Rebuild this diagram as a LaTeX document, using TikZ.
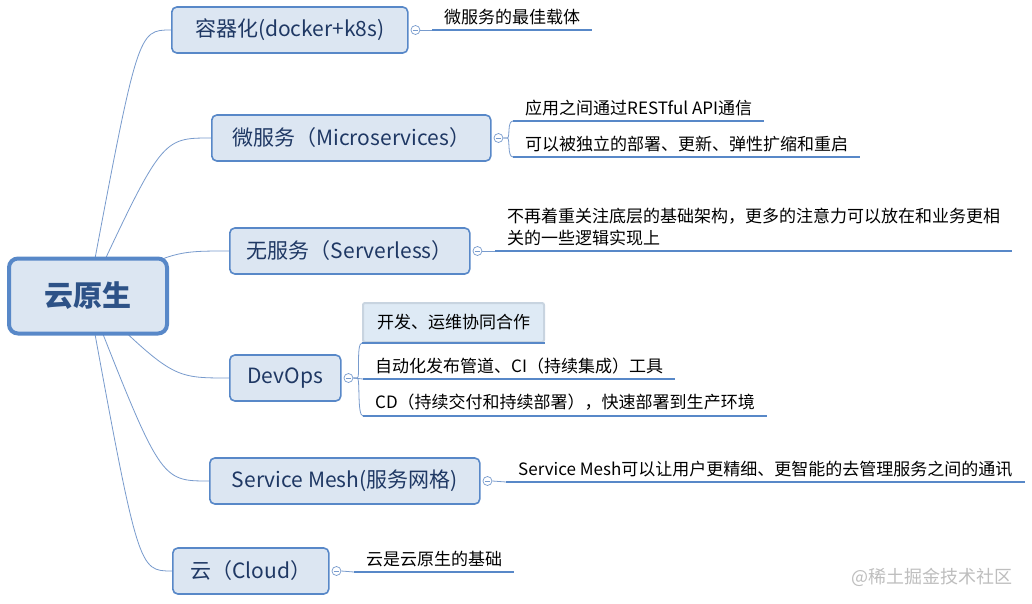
\documentclass[tikz,border=0pt]{standalone}
\usepackage{fontspec}
\setmainfont{Noto Sans CJK SC}
\usepackage{xcolor}
\usetikzlibrary{positioning,calc,backgrounds}

\definecolor{boxfill}{RGB}{220,230,242}
\definecolor{boxline}{RGB}{88,136,200}
\definecolor{boxtext}{RGB}{31,56,100}
\definecolor{roottext}{RGB}{45,82,135}
\definecolor{limbline}{RGB}{120,155,205}
\definecolor{ulinecol}{RGB}{88,136,200}
\definecolor{selfill}{RGB}{222,234,245}
\definecolor{selline}{RGB}{200,212,224}
\definecolor{markgray}{RGB}{190,190,190}

\begin{document}
\begin{tikzpicture}[x=1pt,y=-1pt]
\tikzstyle{root} = [rectangle, rounded corners=9pt, draw=boxline, line width=4pt, fill=boxfill, text=roottext, font=\fontsize{29}{34}\selectfont\bfseries, minimum width=158pt, minimum height=75pt]
\tikzstyle{branch} = [rectangle, rounded corners=5pt, draw=boxline, line width=1.6pt, fill=boxfill, text=boxtext, font=\fontsize{21}{25}\selectfont, minimum height=46pt, anchor=west]
\tikzstyle{fold} = [circle, draw=limbline, fill=white, line width=0.7pt, inner sep=0pt, minimum size=9pt, path picture={\draw[limbline, line width=0.7pt] ([xshift=-2.5pt]path picture bounding box.center) -- ([xshift=2.5pt]path picture bounding box.center);}]
\tikzstyle{leaf} = [anchor=south west, inner xsep=12pt, inner ysep=5pt, font=\fontsize{17}{22}\selectfont, text=black, align=left]
\tikzstyle{limb} = [draw=limbline, line width=0.8pt]
\tikzstyle{twig} = [draw=limbline, line width=0.8pt]
\tikzstyle{uline} = [draw=ulinecol, line width=2.8pt]

\useasboundingbox (0,0) rectangle (1032,604);

% centre and main topics
\node (root) [root] at (88,296) {云原生};
\node (b1) [branch, minimum width=236pt] at (171,30) {容器化(docker+k8s)};
\node (b2) [branch, minimum width=279pt] at (211,138) {微服务（Microservices）};
\node (b3) [branch, minimum width=240pt] at (229,251) {无服务（Serverless）};
\node (b4) [branch, minimum width=111pt] at (229,378) {DevOps};
\node (b5) [branch, minimum width=270pt] at (209,481) {Service Mesh(服务网格)};
\node (b6) [branch, minimum width=156pt] at (172,571) {云（Cloud）};

% collapse markers
\node (m1) [fold, right=2pt of b1] {};
\node (m2) [fold, right=2pt of b2] {};
\node (m3) [fold, right=2pt of b3] {};
\node (m4) [fold, right=2pt of b4] {};
\node (m5) [fold, right=2pt of b5] {};
\node (m6) [fold, right=2pt of b6] {};

% sub topics
\node (c1) [leaf] at (432,30) {微服务的最佳载体};
\node (c2a) [leaf] at (513,121) {应用之间通过RESTful API通信};
\node (c2b) [leaf] at (513,157) {可以被独立的部署、更新、弹性扩缩和重启};
\node (c3) [leaf] at (495,251) {不再着重关注底层的基础架构，更多的注意力可以放在和业务更相\\关的一些逻辑实现上};
\node (c4a) [leaf, fill=selfill, draw=selline, line width=2pt, rounded corners=2pt, minimum height=39pt, inner xsep=14pt] at (362,343) {开发、运维协同合作};
\node (c4b) [leaf] at (363,379) {自动化发布管道、CI（持续集成）工具};
\node (c4c) [leaf] at (363,416) {CD（持续交付和持续部署），快速部署到生产环境};
\node (c5) [leaf] at (506,482) {Service Mesh可以让用户更精细、更智能的去管理服务之间的通讯};
\node (c6) [leaf] at (354,572) {云是云原生的基础};

\node (mark) [anchor=east, text=markgray, font=\fontsize{18}{22}\selectfont] at (1016,577) {@稀土掘金技术社区};

\begin{scope}[on background layer]
\fill[white] (0,0) rectangle (1032,604);
\foreach \b in {b1,b2,b3,b4,b5,b6} {
  \path ($(root.center)!0.6!(\b.west)$) coordinate (k);
  \draw[limb] (root.center) .. controls (k |- \b.west) .. (\b.west);
}
\end{scope}

% links to sub topics
\draw[twig] (m1.east) -- (c1.south west);
\draw[twig] (m3.east) -- (c3.south west);
\draw[twig] (m5.east) -- (c5.south west);
\draw[twig] (m6.east) -- (c6.south west);
\draw[twig] (m2.east) -- ++(4,0) .. controls +(3,0) and +(-6,0) .. (c2a.south west);
\draw[twig] (m2.east) -- ++(4,0) .. controls +(3,0) and +(-6,0) .. (c2b.south west);
\draw[twig] (m4.east) -- ++(4,0) .. controls +(3,0) and +(-6,0) .. (c4a.south west);
\draw[twig] (m4.east) -- (c4b.south west);
\draw[twig] (m4.east) -- ++(4,0) .. controls +(3,0) and +(-6,0) .. (c4c.south west);

\foreach \c in {c1,c2a,c2b,c3,c4a,c4b,c4c,c5,c6}
  \draw[uline] (\c.south west) -- (\c.south east);
\end{tikzpicture}
\end{document}
